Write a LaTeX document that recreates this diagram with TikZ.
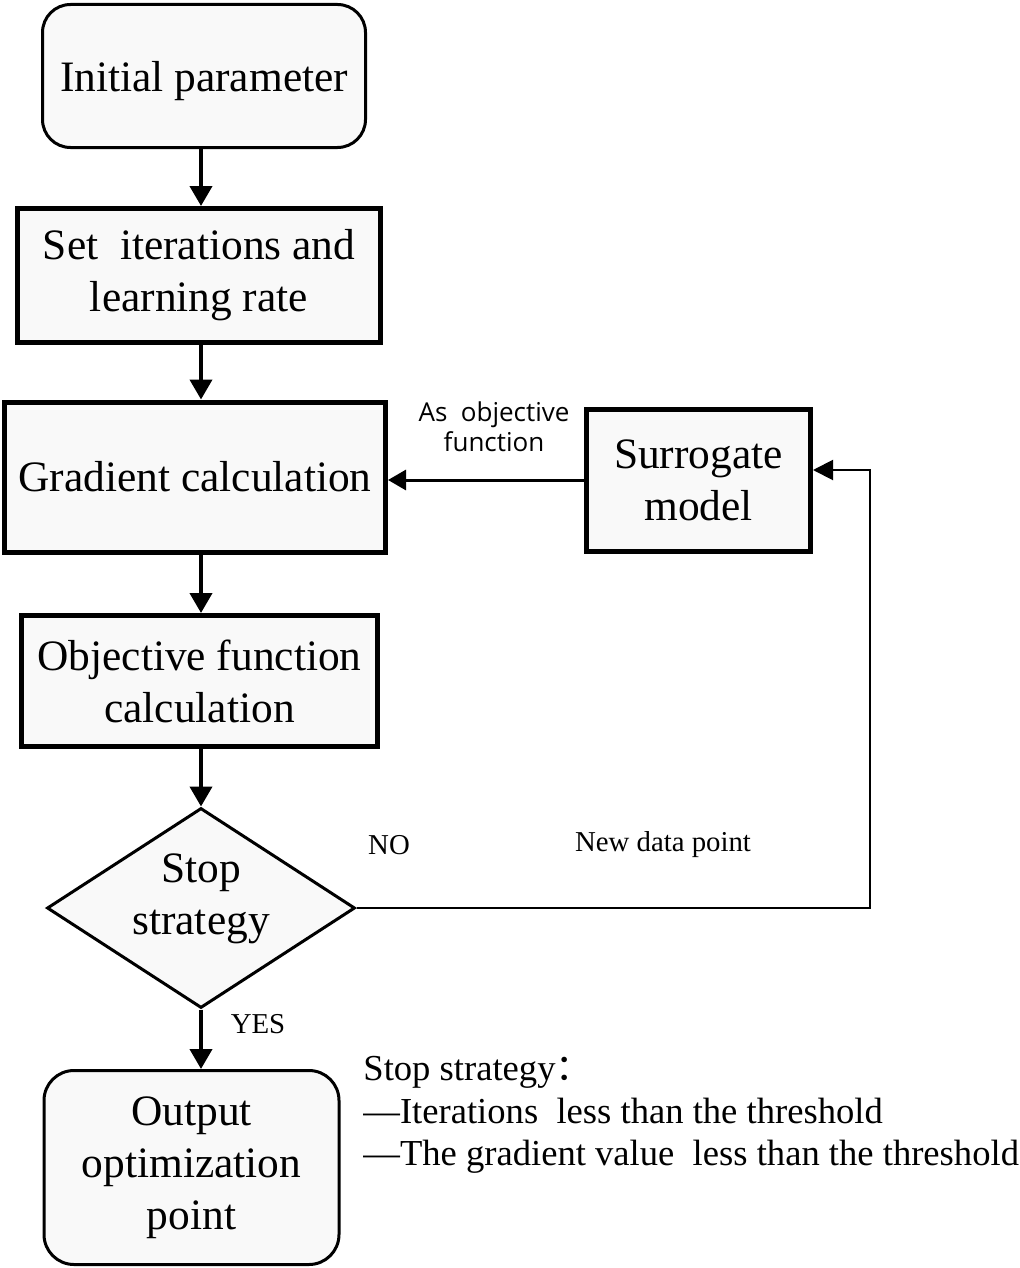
\documentclass[tikz,border=0pt]{standalone}
\usepackage{fontspec}
\setmainfont{Liberation Serif}
\newfontfamily\labelfont{Open Sans}
\newfontfamily\cjk{Noto Sans CJK SC}
\usepackage{tikz}
\usetikzlibrary{arrows.meta,positioning,shapes.geometric}

\tikzset{
  base/.style={fill=gray!5, align=center, inner sep=0pt, font=\fontsize{21.7}{26}\selectfont},
  process/.style={base, draw, line width=2.5pt},
  terminal/.style={base, draw, line width=1.5pt, rounded corners=14pt},
  decision/.style={base, draw, diamond, aspect=1.53, line width=1.5pt},
  flow/.style={-{Triangle[width=11pt,length=10pt]}, line width=2pt},
  feed/.style={-{Triangle[width=10pt,length=9pt]}, line width=1.5pt},
  back/.style={-{Triangle[width=10pt,length=10pt]}, line width=1pt},
  note/.style={inner sep=0pt, font=\fontsize{14.4}{17}\selectfont}
}

\begin{document}
\begin{tikzpicture}[x=0.5pt,y=-0.5pt,on grid]
   \useasboundingbox (0,0) rectangle (1019,1268);
   \coordinate (spine) at (201,0);
   \node[terminal,minimum width=161.5pt,minimum height=71.5pt,text depth=0pt] (init) at (204,76) {Initial parameter};
   \node[process,minimum width=181.5pt,minimum height=67pt] (set) [below=99.75pt of init,xshift=-2.5pt] {Set\ \ iterations and\\learning rate};
   \node[process,minimum width=190.5pt,minimum height=75pt] (grad) [below=100.75pt of set,xshift=-2pt] {Gradient calculation};
   \node[process,minimum width=178pt,minimum height=65.5pt] (obj) [below=102pt of grad,xshift=2.25pt] {Objective function\\calculation};
   \node[decision,minimum width=154pt,minimum height=100pt] (stop) [below=113.5pt of obj,xshift=0.75pt]
      {\raisebox{5pt}[\height][\depth]{\begin{tabular}{@{}c@{}}Stop\\strategy\end{tabular}}};
   \node[terminal,minimum width=147.5pt,minimum height=97pt,rounded corners=15pt] (out) [below=129.75pt of stop,xshift=-4.75pt] {Output\\optimization\\point};
   \node[process,minimum width=112pt,minimum height=71pt] (surr) [right=251.75pt of grad,yshift=-1.5pt] {Surrogate\\model};
   \coordinate (turn) at (870,470);

   \draw[flow] (init.south -| spine) -- (set.north -| spine);
   \draw[flow] (set.south -| spine) -- (grad.north -| spine);
   \draw[flow] (grad.south -| spine) -- (obj.north -| spine);
   \draw[flow] (obj.south -| spine) -- (stop.north);
   \draw[flow] (stop.south) -- (out.north -| spine);
   \draw[feed] (surr.west) -- (surr.west -| grad.east);
   \draw[back] (stop.east) -| (turn) -- (turn -| surr.east);

   \node[note,align=center,font=\labelfont\fontsize{13}{15}\selectfont] (asobj) at (494,427) {As\ \ objective\\function};
   \node[note] (no) at (389,845) {NO};
   \node[note] (newpt) at (663,845) {New data point};
   \node[note] (yes) at (258,1024) {YES};
   \node[note,anchor=west,align=left,font=\fontsize{18.3}{21.2}\selectfont] (rule) at (363,1115)
      {Stop strategy{\cjk ：}\\—Iterations\ \ less than the threshold\\—The gradient value\ \ less than the threshold};
\end{tikzpicture}
\end{document}
